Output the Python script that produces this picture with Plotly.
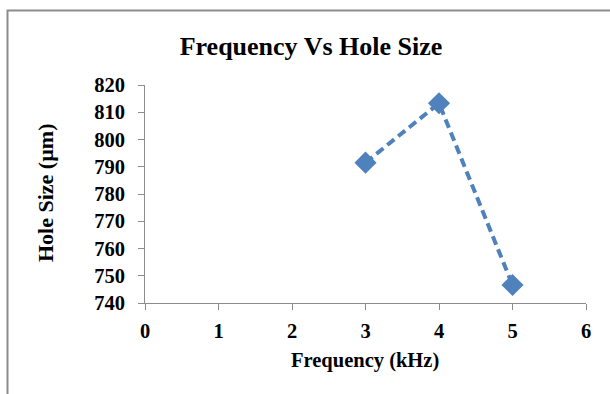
import plotly.graph_objects as go

frequency_khz = [3, 4, 5]
hole_size_um = [791.5, 813.3, 746.6]
x_ticks = [0, 1, 2, 3, 4, 5, 6]
y_ticks = [740, 750, 760, 770, 780, 790, 800, 810, 820]

blue = "#4F81BD"
font_fam = "Liberation Serif, Times New Roman, serif"

fig = go.Figure()
fig.add_trace(go.Scatter(
    x=frequency_khz, y=hole_size_um, mode="lines+markers",
    line=dict(color=blue, width=4, dash="9px,5px"),
    marker=dict(symbol="diamond", size=17, color=blue),
    showlegend=False,
))

L, R, T, B = 145, 24, 85, 91
W, H = 610, 394
pw, ph = W - L - R, H - T - B

def px(x):
    return (x - L) / pw

def py(y):
    return (H - B - y) / ph

fig.add_shape(type="rect", xref="paper", yref="paper",
              x0=px(7.5), x1=px(620), y0=py(10.5), y1=py(420),
              line=dict(color="#8c8c8c", width=2), fillcolor="rgba(0,0,0,0)")

fig.add_annotation(text="<b>Hole Size (µm)</b>", textangle=-90, showarrow=False,
                   xref="paper", yref="paper", x=px(45), y=py(193),
                   xanchor="center", yanchor="middle", font=dict(size=22, family=font_fam))
fig.add_annotation(text="<b>Frequency (kHz)</b>", showarrow=False,
                   xref="paper", yref="paper", x=px(365), y=py(360),
                   xanchor="center", yanchor="middle", font=dict(size=20.5, family=font_fam))

fig.update_layout(
    width=W, height=H,
    margin=dict(l=L, r=R, t=T, b=B),
    paper_bgcolor="white", plot_bgcolor="white",
    font=dict(family=font_fam, color="black"),
    title=dict(text="<b>Frequency Vs Hole Size</b>", x=px(311), xref="paper",
               xanchor="center", y=1 - 46 / H, yanchor="middle",
               font=dict(size=26, family=font_fam)),
    xaxis=dict(range=[0, 6], tickvals=x_ticks, ticktext=[f"<b>{v}</b>" for v in x_ticks],
               showgrid=False, zeroline=False, showline=True, linecolor="#8c8c8c", linewidth=1,
               ticks="outside", ticklen=6, tickcolor="#8c8c8c", tickfont=dict(size=20.5),
               ticklabelstandoff=3),
    yaxis=dict(range=[740, 820], tickvals=y_ticks, ticktext=[f"<b>{v}</b>" for v in y_ticks],
               showgrid=False, zeroline=False, showline=True, linecolor="#8c8c8c", linewidth=1,
               ticks="outside", ticklen=6, tickcolor="#8c8c8c", tickfont=dict(size=20.5),
               ticklabelstandoff=9),
)

fig.write_html("out.html")
